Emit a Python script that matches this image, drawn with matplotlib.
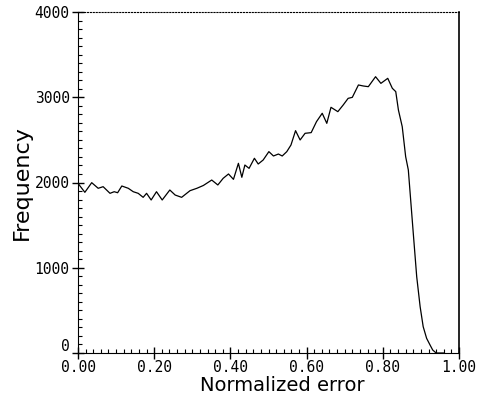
import matplotlib.pyplot as plt
from matplotlib.ticker import MultipleLocator
from matplotlib.transforms import ScaledTranslation

# values
error = [0.000, 0.018, 0.036, 0.053, 0.066, 0.084, 0.095, 0.104, 0.115, 0.132,
         0.145, 0.158, 0.171, 0.180, 0.192, 0.206, 0.221, 0.241, 0.255, 0.272,
         0.294, 0.312, 0.329, 0.351, 0.367, 0.381, 0.395, 0.408, 0.421, 0.430,
         0.438, 0.449, 0.463, 0.473, 0.486, 0.501, 0.513, 0.526, 0.536, 0.548,
         0.559, 0.571, 0.583, 0.596, 0.612, 0.626, 0.641, 0.653, 0.664, 0.682,
         0.696, 0.709, 0.720, 0.736, 0.749, 0.762, 0.781, 0.795, 0.813, 0.825,
         0.834, 0.841, 0.851, 0.860, 0.867, 0.880, 0.889, 0.898, 0.906, 0.915,
         0.924, 0.931, 0.940, 0.960]
frequency = [1990, 1885, 1998, 1932, 1951, 1873, 1892, 1880, 1959, 1932,
             1892, 1873, 1826, 1873, 1795, 1892, 1795, 1912, 1853, 1826,
             1904, 1932, 1965, 2029, 1971, 2049, 2100, 2037, 2225, 2061,
             2205, 2166, 2284, 2217, 2264, 2362, 2311, 2334, 2311, 2362,
             2440, 2608, 2499, 2577, 2585, 2714, 2812, 2694, 2882, 2831,
             2909, 2987, 2999, 3144, 3132, 3124, 3241, 3163, 3222, 3105,
             3066, 2850, 2655, 2303, 2147, 1404, 895, 543, 309, 172,
             94, 35, 0, 0]

xticks = [0.0, 0.2, 0.4, 0.6, 0.8, 1.0]
yticks = [0, 1000, 2000, 3000, 4000]

fig = plt.figure(figsize=(4.78, 3.94), dpi=100)
ax = fig.add_axes([78 / 478, 41 / 394, 381 / 478, 341 / 394])

ax.plot(error, frequency, color='black', linewidth=0.9)

ax.set_xlim(0, 1)
ax.set_ylim(0, 4000)
ax.set_xticks(xticks)
ax.set_xticklabels([f"{t:.2f}" for t in xticks])
ax.set_yticks(yticks)
ax.set_yticklabels([str(t) for t in yticks])
ax.xaxis.set_minor_locator(MultipleLocator(0.02))
ax.yaxis.set_minor_locator(MultipleLocator(100))
ax.tick_params(which='major', direction='inout', length=8, width=1,
               labelsize=10.5, pad=2)
ax.tick_params(axis='x', which='major', pad=1)
ax.tick_params(which='minor', direction='in', length=3, width=0.8)
for lbl in ax.get_xticklabels() + ax.get_yticklabels():
    lbl.set_family('DejaVu Sans Mono')

# lift the "0" on the y axis so it clears the "0.00" below it
zero_lbl = ax.get_yticklabels()[0]
zero_lbl.set_transform(zero_lbl.get_transform() +
                       ScaledTranslation(0, 6 / 72, fig.dpi_scale_trans))

ax.spines['top'].set_linestyle(':')
ax.spines['top'].set_linewidth(0.8)
ax.spines['right'].set_linewidth(1.2)

ax.set_xlabel("Normalized error", fontsize=14, color='black')
ax.xaxis.set_label_coords(0.535, -0.068, transform=ax.transAxes)
ax.xaxis.label.set_va('top')
ax.set_ylabel("Frequency", fontsize=16, labelpad=2, color='black')

fig.savefig("out.png", dpi=100)
